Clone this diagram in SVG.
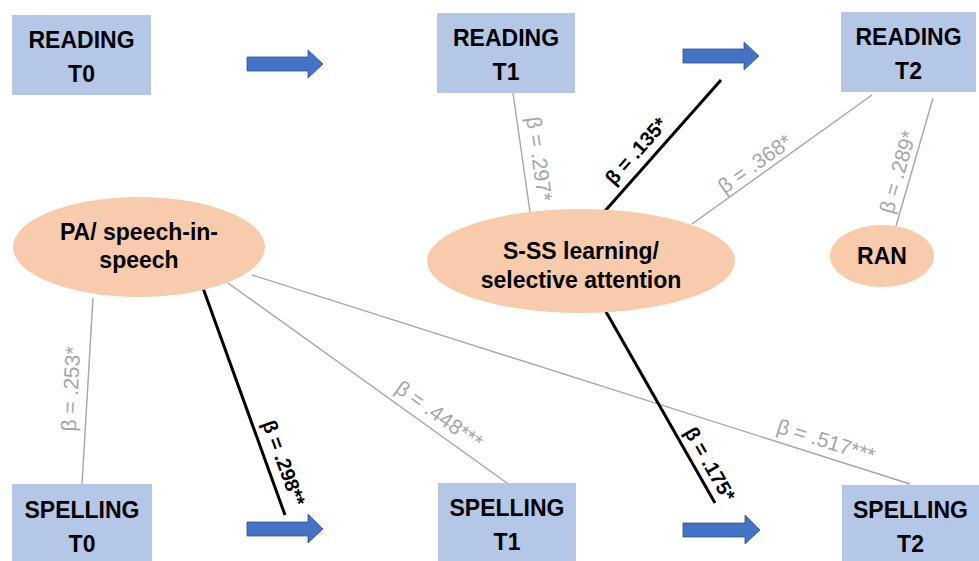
<svg xmlns="http://www.w3.org/2000/svg" width="979" height="561" viewBox="0 0 979 561">
<style>
.box{fill:#B4C7E7}
.ell{fill:#F8CBAD}
.nt{font-family:"Liberation Sans",Arial,sans-serif;font-weight:bold;font-size:23px;fill:#000;text-anchor:middle}
.gl{stroke:#A6A6A6;stroke-width:1.4;fill:none}
.bl{stroke:#000;stroke-width:3;fill:none}
.gt{font-family:"Liberation Sans",Arial,sans-serif;font-size:21px;fill:#A6A6A6;text-anchor:middle}
.bt{font-family:"Liberation Sans",Arial,sans-serif;font-size:20px;font-weight:bold;fill:#000;text-anchor:middle}
.arr{fill:#4472C4;stroke:#2F528F;stroke-width:0.8}
</style>
<rect width="979" height="561" fill="#fff"/>
<g id="connectors">
<line class="gl" x1="513" y1="93" x2="530" y2="212"/>
<line class="bl" x1="721" y1="80" x2="605" y2="211"/>
<line class="gl" x1="872" y1="95" x2="692" y2="224"/>
<line class="gl" x1="933" y1="98" x2="896" y2="226"/>
<line class="gl" x1="93" y1="298" x2="82" y2="484"/>
<line class="bl" x1="203" y1="288" x2="285" y2="515"/>
<line class="gl" x1="228" y1="283" x2="507" y2="483"/>
<line class="gl" x1="252" y1="275" x2="910" y2="484"/>
<line class="bl" x1="605" y1="310" x2="715" y2="503"/>
<g transform="translate(539,159) rotate(82)"><text class="gt" y="7">β = .297*</text></g>
<g transform="translate(636,151) rotate(-48.3)"><text class="bt" y="7">β = .135*</text></g>
<g transform="translate(755,164) rotate(-35.6)"><text class="gt" y="7">β = .368*</text></g>
<g transform="translate(898,172) rotate(-74)"><text class="gt" y="7">β = .289*</text></g>
<g transform="translate(71,389) rotate(-87)"><text class="gt" y="7">β = .253*</text></g>
<g transform="translate(284,463) rotate(70)"><text class="bt" y="7">β = .298**</text></g>
<g transform="translate(439,415) rotate(35.6)"><text class="gt" y="7">β = .448***</text></g>
<g transform="translate(826,441) rotate(17.5)"><text class="gt" y="7">β = .517***</text></g>
<g transform="translate(710,464) rotate(60.3)"><text class="bt" y="7">β = .175*</text></g>
</g>
<g id="arrows">
<polygon class="arr" points="247,57 308,57 308,50 323,64 308,78 308,71 247,71"/>
<polygon class="arr" points="683,49 744,49 744,42 759,56 744,70 744,63 683,63"/>
<polygon class="arr" points="247,522 308,522 308,514 323,529 308,543 308,536 247,536"/>
<polygon class="arr" points="683,523 745,523 745,515 760,530 745,544 745,537 683,537"/>
</g>
<g id="reading-t0"><rect class="box" x="12" y="15" width="139" height="80"/><text class="nt" x="81.5" y="48">READING</text><text class="nt" x="81.5" y="82">T0</text></g>
<g id="reading-t1"><rect class="box" x="437" y="13" width="138" height="80"/><text class="nt" x="506" y="46">READING</text><text class="nt" x="506" y="80">T1</text></g>
<g id="reading-t2"><rect class="box" x="841" y="12" width="135" height="80"/><text class="nt" x="908.5" y="45">READING</text><text class="nt" x="908.5" y="79">T2</text></g>
<g id="spelling-t0"><rect class="box" x="12" y="484" width="140" height="77"/><text class="nt" x="82" y="518">SPELLING</text><text class="nt" x="82" y="552">T0</text></g>
<g id="spelling-t1"><rect class="box" x="438" y="483" width="138" height="78"/><text class="nt" x="507" y="516">SPELLING</text><text class="nt" x="507" y="550">T1</text></g>
<g id="spelling-t2"><rect class="box" x="842" y="485" width="137" height="76"/><text class="nt" x="910.5" y="518">SPELLING</text><text class="nt" x="910.5" y="552">T2</text></g>
<g id="pa"><ellipse class="ell" cx="139" cy="247" rx="126" ry="50"/><text class="nt" x="139" y="240">PA/ speech-in-</text><text class="nt" x="139" y="268">speech</text></g>
<g id="sss"><ellipse class="ell" cx="581" cy="261" rx="154" ry="52"/><text class="nt" x="581" y="259">S-SS learning/</text><text class="nt" x="581" y="288">selective attention</text></g>
<g id="ran"><ellipse class="ell" cx="882" cy="256" rx="52" ry="31"/><text class="nt" x="882" y="264">RAN</text></g>
</svg>
